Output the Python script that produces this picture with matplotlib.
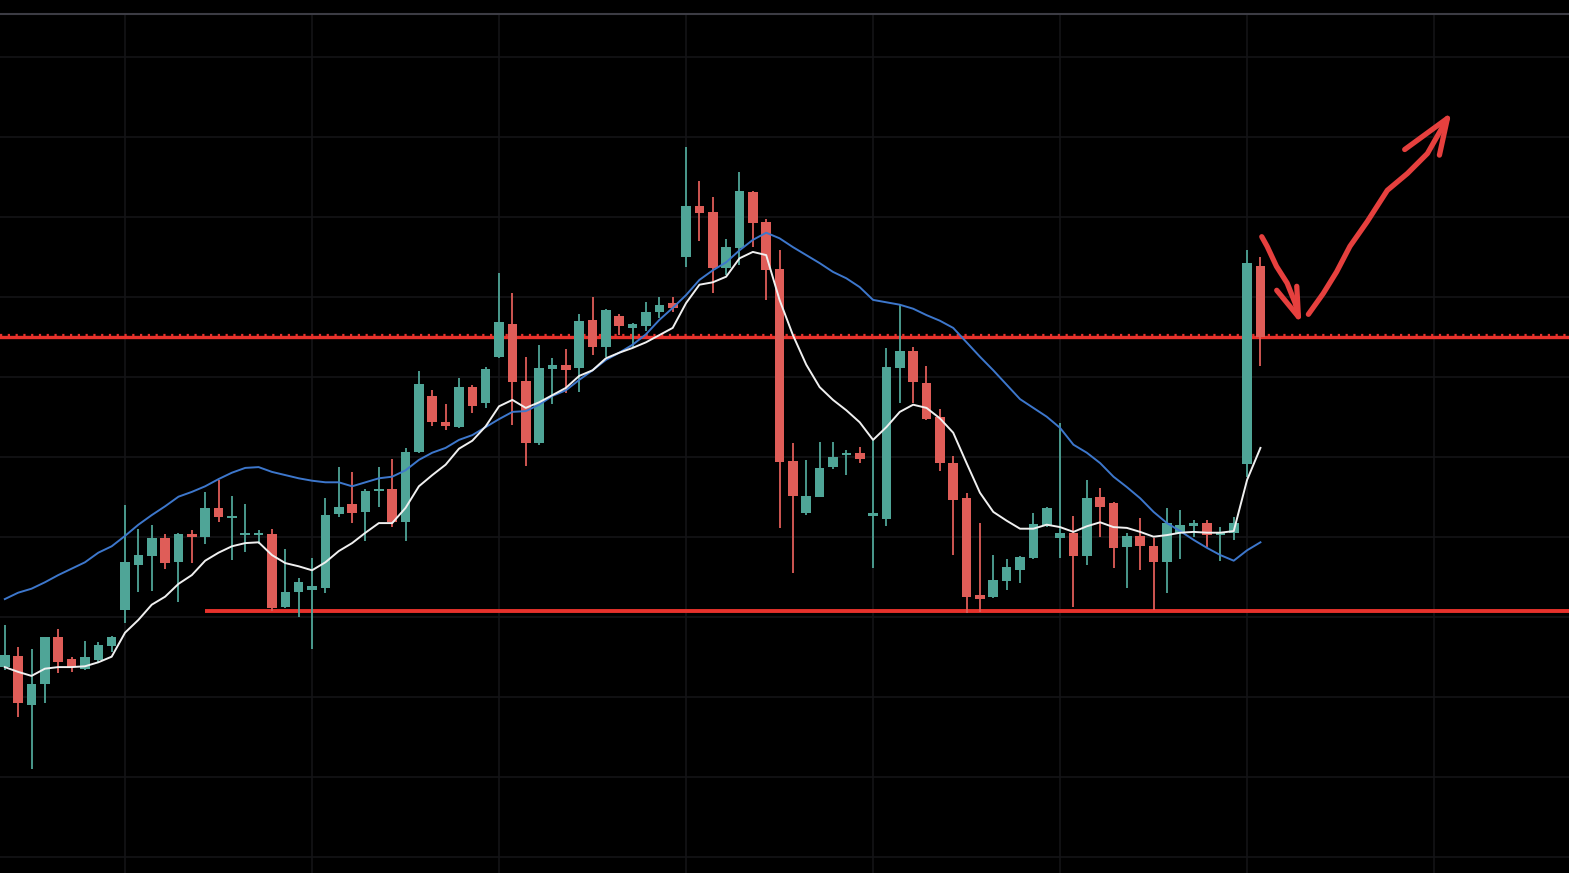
import numpy as np
import matplotlib.pyplot as plt

# candle data (price units, one grid step = 1.0)
opens = [2.37, 2.51, 1.90, 2.16, 2.75, 2.47, 2.35, 2.46, 2.63, 3.08,
         3.65, 3.76, 3.98, 3.68, 4.03, 4.00, 4.36, 4.23, 4.02, 4.02,
         4.03, 3.12, 3.31, 3.33, 3.36, 4.28, 4.41, 4.31, 4.57, 4.60,
         4.18, 5.06, 5.76, 5.43, 5.37, 5.87, 5.67, 6.25, 6.66, 5.95,
         5.17, 6.10, 6.15, 6.11, 6.71, 6.37, 6.76, 6.61, 6.63, 6.81,
         6.92, 7.50, 8.13, 8.06, 7.36, 7.61, 8.31, 7.93, 7.35, 4.95,
         4.30, 4.50, 4.87, 5.02, 5.05, 4.26, 4.22, 6.11, 6.32, 5.92,
         5.50, 4.92, 4.48, 3.27, 3.25, 3.45, 3.58, 3.73, 4.15, 3.98,
         4.05, 3.76, 4.50, 4.42, 3.87, 4.01, 3.88, 3.68, 4.05, 4.13,
         4.17, 4.02, 4.05, 4.91, 7.38]
closes = [2.52, 1.92, 2.16, 2.75, 2.43, 2.37, 2.50, 2.65, 2.75, 3.68,
          3.77, 3.98, 3.67, 4.03, 4.00, 4.36, 4.25, 4.26, 4.05, 4.05,
          3.11, 3.31, 3.43, 3.38, 4.27, 4.37, 4.30, 4.57, 4.60, 4.18,
          5.06, 5.91, 5.43, 5.38, 5.87, 5.63, 6.10, 6.68, 5.93, 5.17,
          6.11, 6.15, 6.08, 6.70, 6.37, 6.83, 6.63, 6.66, 6.81, 6.90,
          6.86, 8.13, 8.05, 7.36, 7.62, 8.32, 7.92, 7.33, 4.93, 4.51,
          4.51, 4.86, 5.00, 5.05, 4.97, 4.28, 6.12, 6.32, 5.93, 5.47,
          4.92, 4.46, 3.25, 3.22, 3.46, 3.62, 3.75, 4.16, 4.36, 4.05,
          3.76, 4.48, 4.37, 3.86, 4.01, 3.88, 3.68, 4.17, 4.15, 4.17,
          4.02, 4.05, 4.17, 7.42, 6.50]
highs = [2.90, 2.62, 2.60, 2.75, 2.85, 2.50, 2.70, 2.68, 2.76, 4.40,
         4.10, 4.15, 4.03, 4.05, 4.08, 4.56, 4.71, 4.51, 4.41, 4.08,
         4.10, 3.85, 3.48, 3.73, 4.48, 4.87, 4.81, 4.60, 4.87, 4.97,
         5.11, 6.07, 5.83, 5.66, 5.98, 5.90, 6.12, 7.30, 7.05, 6.25,
         6.40, 6.24, 6.35, 6.78, 7.00, 6.85, 6.78, 6.67, 6.93, 7.00,
         7.00, 8.87, 8.45, 8.25, 7.72, 8.56, 8.32, 7.97, 7.58, 5.17,
         4.96, 5.18, 5.18, 5.08, 5.12, 5.21, 6.36, 6.90, 6.37, 6.13,
         5.60, 5.01, 4.55, 4.17, 3.77, 3.72, 3.76, 4.30, 4.37, 5.42,
         4.26, 4.71, 4.61, 4.43, 4.05, 4.23, 3.98, 4.36, 4.33, 4.21,
         4.21, 4.12, 4.25, 7.58, 7.50]
lows = [2.33, 1.75, 1.10, 1.92, 2.30, 2.31, 2.33, 2.43, 2.56, 2.92,
        3.31, 3.32, 3.60, 3.18, 3.67, 3.91, 4.18, 3.71, 3.81, 3.91,
        3.07, 3.11, 3.00, 2.60, 3.30, 4.25, 4.17, 3.95, 4.37, 4.12,
        3.95, 5.05, 5.38, 5.33, 5.36, 5.55, 5.61, 6.24, 5.40, 4.88,
        5.15, 5.66, 5.80, 5.81, 6.27, 6.25, 6.52, 6.37, 6.57, 6.73,
        6.81, 7.37, 7.70, 7.05, 7.27, 7.40, 7.62, 6.96, 4.11, 3.55,
        4.27, 4.49, 4.85, 4.77, 4.92, 3.61, 4.13, 5.67, 5.67, 5.46,
        4.82, 3.77, 3.05, 3.06, 3.23, 3.33, 3.42, 3.72, 4.12, 3.73,
        3.12, 3.65, 4.00, 3.61, 3.36, 3.58, 3.08, 3.30, 3.72, 4.00,
        3.87, 3.70, 3.96, 4.75, 6.13]

# moving averages
ma_fast = [2.37, 2.31, 2.26, 2.35, 2.37, 2.37, 2.38, 2.43, 2.50, 2.80,
           2.96, 3.15, 3.25, 3.41, 3.52, 3.70, 3.80, 3.88, 3.92, 3.93,
           3.77, 3.67, 3.63, 3.58, 3.68, 3.82, 3.92, 4.05, 4.17, 4.17,
           4.36, 4.63, 4.77, 4.90, 5.10, 5.20, 5.38, 5.63, 5.71, 5.61,
           5.68, 5.77, 5.86, 6.01, 6.08, 6.23, 6.30, 6.36, 6.43, 6.52,
           6.61, 6.92, 7.15, 7.18, 7.25, 7.48, 7.56, 7.52, 6.96, 6.52,
           6.15, 5.87, 5.71, 5.58, 5.43, 5.21, 5.37, 5.56, 5.65, 5.61,
           5.48, 5.30, 4.92, 4.55, 4.31, 4.20, 4.10, 4.10, 4.15, 4.12,
           4.06, 4.13, 4.18, 4.12, 4.11, 4.06, 4.00, 4.02, 4.05, 4.06,
           4.05, 4.05, 4.07, 4.71, 5.11]
ma_slow = [3.22, 3.30, 3.35, 3.43, 3.52, 3.60, 3.68, 3.80, 3.88, 4.01,
           4.15, 4.27, 4.38, 4.50, 4.56, 4.63, 4.72, 4.80, 4.86, 4.87,
           4.81, 4.77, 4.73, 4.70, 4.68, 4.68, 4.63, 4.68, 4.73, 4.75,
           4.83, 4.96, 5.05, 5.11, 5.21, 5.27, 5.37, 5.47, 5.56, 5.57,
           5.65, 5.76, 5.83, 5.96, 6.08, 6.21, 6.30, 6.40, 6.53, 6.71,
           6.86, 7.02, 7.21, 7.33, 7.43, 7.58, 7.71, 7.80, 7.73, 7.62,
           7.52, 7.42, 7.31, 7.23, 7.12, 6.96, 6.93, 6.90, 6.85, 6.77,
           6.70, 6.61, 6.43, 6.25, 6.08, 5.90, 5.72, 5.61, 5.50, 5.36,
           5.15, 5.05, 4.92, 4.75, 4.62, 4.48, 4.31, 4.17, 4.07, 3.96,
           3.86, 3.77, 3.70, 3.83, 3.93]

resistance = 6.50
support = 3.07
support_start = 15

# hand-drawn arrows (candle index, price)
down_x = [94.1, 94.5, 95.2, 96.0, 96.6, 96.84]
down_y = [7.75, 7.63, 7.38, 7.17, 6.92, 6.75]
down_head_x = [95.22, 96.84, 96.72]
down_head_y = [7.08, 6.75, 7.13]
up_x = [97.59, 98.7, 99.7, 100.7, 102.0, 103.5, 105.0, 106.5, 108.0]
up_y = [6.78, 7.04, 7.31, 7.63, 7.94, 8.33, 8.54, 8.79, 9.23]
up_head_x = [104.8, 108.0, 107.4]
up_head_y = [8.84, 9.23, 8.77]

GREEN = '#4fa597'
RED = '#df5d58'
LINE_RED = '#e8322c'
GRID = '#151518'

fig = plt.figure(figsize=(15.69, 8.73), dpi=100, facecolor='black')
ax = fig.add_axes([0, 0, 1, 859 / 873])
ax.set_facecolor('black')

o = np.array(opens)
c = np.array(closes)
h = np.array(highs)
l = np.array(lows)
x = np.arange(len(o))
colors = np.where(c >= o, GREEN, RED)

# grid
for gx in range(9, 118, 14):
    ax.axvline(gx, color=GRID, lw=1.1, zorder=0)
for gy in range(0, 11):
    ax.axhline(gy, color=GRID, lw=1.1, zorder=0)

# support / resistance
ax.axhline(resistance, color=LINE_RED, lw=2.4, zorder=2)
ax.axhline(resistance + 0.025, color=LINE_RED, lw=1.6, ls=(0, (1, 2.5)), zorder=2)
ax.plot([support_start, 130], [support, support], color=LINE_RED, lw=2.8,
        solid_capstyle='butt', zorder=2)

# candles
ax.vlines(x, l, h, colors=colors, lw=1.3, zorder=3)
body = np.maximum(np.abs(c - o), 0.03)
ax.bar(x, body, bottom=np.minimum(o, c), width=0.72, color=colors,
       edgecolor='none', zorder=4)

# moving averages
ax.plot(x, ma_slow, color='#3d77cc', lw=1.4, zorder=5)
ax.plot(x, ma_fast, color='#f0f0f0', lw=1.4, zorder=6)

# arrows
arrow_kw = dict(color='#e6403e', lw=3.8, solid_capstyle='round',
                solid_joinstyle='round', zorder=7)
ax.plot(down_x, down_y, **arrow_kw)
ax.plot(down_head_x, down_head_y, **arrow_kw)
ax.plot(up_x, up_y, **arrow_kw)
ax.plot(up_head_x, up_head_y, **arrow_kw)

ax.set_xlim(-0.36, 117.1)
ax.set_ylim(-0.204, 10.534)
ax.set_xticks([])
ax.set_yticks([])
for side in ['left', 'right', 'bottom']:
    ax.spines[side].set_visible(False)
ax.spines['top'].set_color('#3c3c44')
ax.spines['top'].set_linewidth(1.5)

fig.savefig('out.png', dpi=100, facecolor='black')
